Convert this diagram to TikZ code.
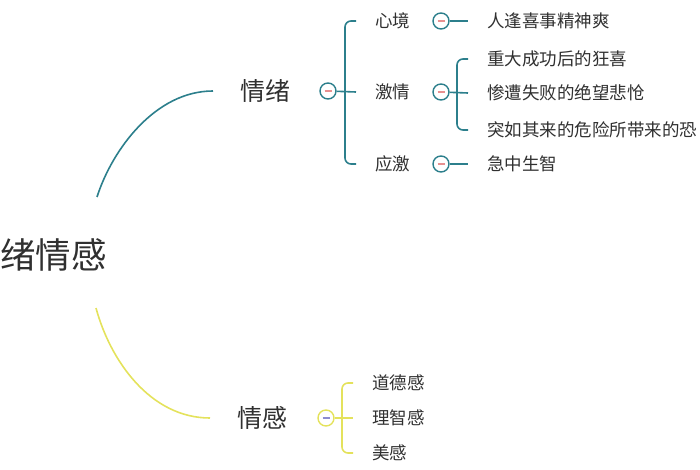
\documentclass[tikz,border=0pt]{standalone}
\usepackage{fontspec}
\setmainfont{Noto Sans CJK SC}
\usepackage{xcolor}
\definecolor{ink}{HTML}{303030}
\definecolor{tl}{HTML}{2C7F8C}
\definecolor{yl}{HTML}{E4E25C}
\definecolor{mp}{HTML}{E89090}
\definecolor{mb}{HTML}{8C8CD0}

\begin{document}
\begin{tikzpicture}[x=1pt,y=-1pt,
    txt/.style={anchor=west,inner ysep=0pt,inner xsep=19pt,text=ink,
      font=\fontsize{17.5}{20}\selectfont},
    big/.style={anchor=west,inner ysep=0pt,inner xsep=27pt,text=ink,
      font=\fontsize{25}{28}\selectfont},
    btn/.style 2 args={circle,draw=#1,line width=1.4pt,minimum size=16pt,inner sep=0pt,
      path picture={\draw[#2,line width=1.2pt]
        ([xshift=-3.5pt]path picture bounding box.center) --
        ([xshift=3.5pt]path picture bounding box.center);}},
    tline/.style={draw=tl,line width=1.6pt},
    yline/.style={draw=yl,line width=1.6pt}]
    \useasboundingbox (0,0) rectangle (700,470);
    \node[anchor=west,inner sep=0pt,text=ink,font=\fontsize{35.5}{40}\selectfont] (root) at (0,255) {绪情感};
    \coordinate (rootN) at (97,197);
    \coordinate (rootS) at (96,308);
    % upper branch
    \node[big] (qx) at (213,91) {情绪};
    \node[btn={tl}{mp}] (qxb) at (328,91) {};
    \node[txt] (xj) at (356,21) {心境};
    \node[txt] (jq) at (356,92) {激情};
    \node[txt] (yj) at (356,164) {应激};
    \node[btn={tl}{mp}] (xjb) at (441,21) {};
    \node[btn={tl}{mp}] (jqb) at (441,92) {};
    \node[btn={tl}{mp}] (yjb) at (441,164) {};
    \node[txt] (l1) at (468,21) {人逢喜事精神爽};
    \node[txt] (l2) at (468,59) {重大成功后的狂喜};
    \node[txt] (l3) at (468,93) {惨遭失败的绝望悲怆};
    \node[txt] (l4) at (468,130) {突如其来的危险所带来的恐};
    \node[txt] (l5) at (468,164) {急中生智};
    \path[tline] (rootN) .. controls (112,150) and (155,91) .. (qx.west);
    \path[tline] (qxb) edge (jq.west);
    \path[tline,rounded corners=6pt] (xj.west) -- ++(-11,0) |- (yj.west);
    \path[tline] (xjb) edge (l1.west);
    \path[tline] (jqb) edge (l3.west);
    \path[tline] (yjb) edge (l5.west);
    \path[tline,rounded corners=6pt] (l2.west) -- ++(-11,0) |- (l4.west);
    % lower branch
    \node[big] (qg) at (210,418) {情感};
    \node[btn={yl}{mb}] (qgb) at (326,418) {};
    \node[txt] (dd) at (353,383) {道德感};
    \node[txt] (lz) at (353,418) {理智感};
    \node[txt] (mg) at (353,453) {美感};
    \path[yline] (rootS) .. controls (110,360) and (150,418) .. (qg.west);
    \path[yline] (qgb) edge (lz.west);
    \path[yline,rounded corners=6pt] (dd.west) -- ++(-11,0) |- (mg.west);
  \end{tikzpicture}
\end{document}
